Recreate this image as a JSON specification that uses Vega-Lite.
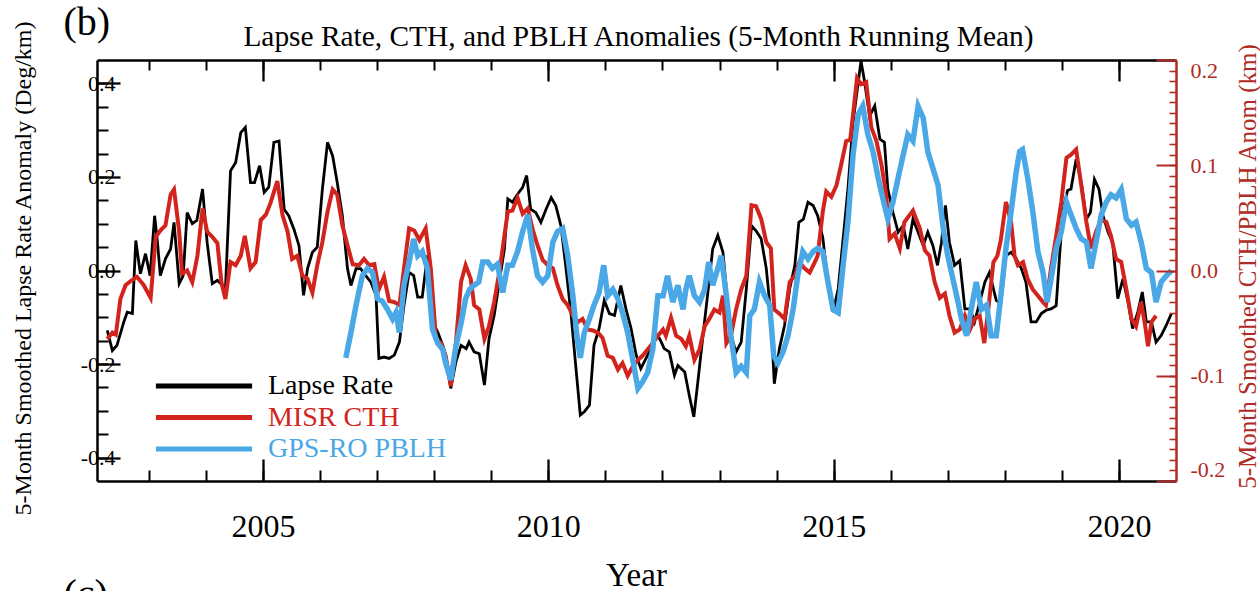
{
  "$schema": "https://vega.github.io/schema/vega-lite/v6.json",
  "autosize": {"type": "none"},
  "width": 1079,
  "height": 421,
  "padding": {"left": 97, "top": 60, "right": 84, "bottom": 110},
  "background": "white",
  "config": {"view": {"stroke": null}, "font": "Liberation Serif"},
  "datasets": {
    "lr": [
      {"t":2002.27,"v":-0.128},{"t":2002.36,"v":-0.171},{"t":2002.44,"v":-0.16},{"t":2002.56,"v":-0.11},{"t":2002.62,"v":-0.089},{"t":2002.71,"v":-0.092},{"t":2002.77,"v":0.064},{"t":2002.85,"v":-0.007},{"t":2002.94,"v":0.036},{"t":2003.02,"v":-0.011},{"t":2003.10,"v":0.117},{"t":2003.15,"v":0.06},{"t":2003.20,"v":-0.011},{"t":2003.29,"v":0.025},{"t":2003.38,"v":0.046},{"t":2003.44,"v":0.103},{"t":2003.53,"v":-0.028},{"t":2003.60,"v":-0.011},{"t":2003.67,"v":0.124},{"t":2003.76,"v":0.10},{"t":2003.84,"v":0.107},{"t":2003.94,"v":0.174},{"t":2004.02,"v":0.06},{"t":2004.11,"v":-0.028},{"t":2004.20,"v":-0.021},{"t":2004.29,"v":-0.032},{"t":2004.34,"v":-0.043},{"t":2004.43,"v":0.213},{"t":2004.52,"v":0.231},{"t":2004.61,"v":0.295},{"t":2004.69,"v":0.306},{"t":2004.78,"v":0.188},{"t":2004.85,"v":0.188},{"t":2004.94,"v":0.224},{"t":2005.02,"v":0.167},{"t":2005.10,"v":0.178},{"t":2005.19,"v":0.274},
      {"t":2005.28,"v":0.277},{"t":2005.37,"v":0.131},{"t":2005.45,"v":0.117},{"t":2005.54,"v":0.089},{"t":2005.63,"v":0.053},{"t":2005.71,"v":-0.053},{"t":2005.78,"v":0.004},{"t":2005.865,"v":0.039},{"t":2005.95,"v":0.05},{"t":2006.04,"v":0.174},{"t":2006.13,"v":0.274},{"t":2006.22,"v":0.245},{"t":2006.30,"v":0.188},{"t":2006.39,"v":0.117},{"t":2006.48,"v":0.004},{"t":2006.54,"v":-0.032},{"t":2006.63,"v":0.004},{"t":2006.71,"v":0.004},{"t":2006.80,"v":-0.011},{"t":2006.89,"v":-0.025},{"t":2006.98,"v":-0.053},{"t":2007.03,"v":-0.188},{"t":2007.12,"v":-0.185},{"t":2007.21,"v":-0.188},{"t":2007.30,"v":-0.181},{"t":2007.39,"v":-0.153},{"t":2007.47,"v":-0.075},{"t":2007.56,"v":-0.004},{"t":2007.64,"v":-0.011},{"t":2007.71,"v":-0.057},{"t":2007.79,"v":-0.057},{"t":2007.88,"v":0.032},{"t":2007.97,"v":-0.11},{"t":2008.06,"v":-0.131},{"t":2008.15,"v":-0.16},{"t":2008.20,"v":-0.181},{"t":2008.29,"v":-0.252},{"t":2008.38,"v":-0.195},
      {"t":2008.47,"v":-0.16},{"t":2008.56,"v":-0.167},{"t":2008.61,"v":-0.153},{"t":2008.70,"v":-0.174},{"t":2008.79,"v":-0.178},{"t":2008.88,"v":-0.245},{"t":2008.96,"v":-0.146},{"t":2009.05,"v":-0.096},{"t":2009.14,"v":-0.025},{"t":2009.23,"v":0.046},{"t":2009.29,"v":0.153},{"t":2009.37,"v":0.146},{"t":2009.46,"v":0.163},{"t":2009.55,"v":0.178},{"t":2009.62,"v":0.203},{"t":2009.69,"v":0.131},{"t":2009.78,"v":0.124},{"t":2009.87,"v":0.103},{"t":2009.96,"v":0.131},{"t":2010.05,"v":0.156},{"t":2010.13,"v":0.139},{"t":2010.22,"v":0.096},{"t":2010.31,"v":0.004},{"t":2010.40,"v":-0.096},{"t":2010.49,"v":-0.217},{"t":2010.56,"v":-0.309},{"t":2010.63,"v":-0.302},{"t":2010.72,"v":-0.288},{"t":2010.80,"v":-0.16},{"t":2010.89,"v":-0.124},{"t":2010.98,"v":-0.064},{"t":2011.07,"v":-0.092},{"t":2011.16,"v":-0.096},{"t":2011.27,"v":-0.032},{"t":2011.36,"v":-0.082},{"t":2011.45,"v":-0.124},{"t":2011.54,"v":-0.181},
      {"t":2011.62,"v":-0.21},{"t":2011.74,"v":-0.181},{"t":2011.83,"v":-0.153},{"t":2011.92,"v":-0.139},{"t":2011.98,"v":-0.153},{"t":2012.03,"v":-0.167},{"t":2012.12,"v":-0.174},{"t":2012.21,"v":-0.224},{"t":2012.27,"v":-0.203},{"t":2012.39,"v":-0.217},{"t":2012.47,"v":-0.267},{"t":2012.55,"v":-0.313},{"t":2012.62,"v":-0.238},{"t":2012.71,"v":-0.139},{"t":2012.79,"v":-0.053},{"t":2012.88,"v":0.046},{"t":2012.97,"v":0.075},{"t":2013.06,"v":0.039},{"t":2013.12,"v":-0.039},{"t":2013.20,"v":-0.139},{"t":2013.29,"v":-0.174},{"t":2013.38,"v":-0.153},{"t":2013.47,"v":-0.039},{"t":2013.56,"v":0.096},{"t":2013.64,"v":0.085},{"t":2013.73,"v":0.068},{"t":2013.82,"v":0.004},{"t":2013.90,"v":-0.096},{"t":2013.96,"v":-0.242},{"t":2014.05,"v":-0.167},{"t":2014.14,"v":-0.117},{"t":2014.23,"v":-0.039},{"t":2014.32,"v":0.011},{"t":2014.39,"v":0.103},{"t":2014.47,"v":0.11},{"t":2014.55,"v":0.146},{"t":2014.64,"v":0.139},{"t":2014.72,"v":0.117},
      {"t":2014.81,"v":0.07},{"t":2014.90,"v":-0.025},{"t":2014.99,"v":-0.089},{"t":2015.08,"v":-0.039},{"t":2015.16,"v":0.06},{"t":2015.25,"v":0.174},{"t":2015.34,"v":0.316},{"t":2015.43,"v":0.402},{"t":2015.48,"v":0.448},{"t":2015.54,"v":0.405},{"t":2015.63,"v":0.33},{"t":2015.72,"v":0.352},{"t":2015.81,"v":0.281},{"t":2015.89,"v":0.274},{"t":2015.95,"v":0.174},{"t":2016.04,"v":0.124},{"t":2016.13,"v":0.082},{"t":2016.22,"v":0.096},{"t":2016.30,"v":0.046},{"t":2016.39,"v":0.11},{"t":2016.48,"v":0.082},{"t":2016.57,"v":0.053},{"t":2016.65,"v":0.082},{"t":2016.74,"v":0.053},{"t":2016.82,"v":0.011},{"t":2016.89,"v":0.06},{"t":2016.96,"v":0.139},{"t":2017.03,"v":0.06},{"t":2017.12,"v":0.011},{"t":2017.21,"v":0.021},{"t":2017.30,"v":-0.082},{"t":2017.39,"v":-0.082},{"t":2017.47,"v":-0.11},{"t":2017.56,"v":-0.068},{"t":2017.65,"v":-0.025},{"t":2017.73,"v":-0.004},{"t":2017.85,"v":-0.064},{"t":2017.93,"v":-0.071},
      {"t":2018.02,"v":0.032},{"t":2018.11,"v":0.039},{"t":2018.20,"v":0.025},{"t":2018.29,"v":0.004},{"t":2018.37,"v":-0.025},{"t":2018.46,"v":-0.11},{"t":2018.55,"v":-0.11},{"t":2018.64,"v":-0.092},{"t":2018.72,"v":-0.085},{"t":2018.81,"v":-0.082},{"t":2018.90,"v":-0.075},{"t":2018.96,"v":0.032},{"t":2019.02,"v":0.131},{"t":2019.10,"v":0.171},{"t":2019.16,"v":0.174},{"t":2019.25,"v":0.238},{"t":2019.34,"v":0.188},{"t":2019.43,"v":0.11},{"t":2019.50,"v":0.124},{"t":2019.57,"v":0.195},{"t":2019.65,"v":0.174},{"t":2019.72,"v":0.117},{"t":2019.81,"v":0.082},{"t":2019.89,"v":0.06},{"t":2019.98,"v":-0.06},{"t":2020.07,"v":-0.018},{"t":2020.16,"v":-0.068},{"t":2020.24,"v":-0.124},{"t":2020.33,"v":-0.089},{"t":2020.41,"v":-0.046},{"t":2020.48,"v":-0.11},{"t":2020.57,"v":-0.11},{"t":2020.65,"v":-0.153},{"t":2020.74,"v":-0.139},{"t":2020.83,"v":-0.117},{"t":2020.92,"v":-0.092}
    ],
    "cth": [
      {"t":2002.27,"v":-0.065},{"t":2002.36,"v":-0.059},{"t":2002.42,"v":-0.061},{"t":2002.50,"v":-0.027},{"t":2002.59,"v":-0.014},{"t":2002.68,"v":-0.010},{"t":2002.79,"v":-0.006},{"t":2002.91,"v":-0.014},{"t":2003.03,"v":-0.026},{"t":2003.12,"v":0.032},{"t":2003.20,"v":0.038},{"t":2003.29,"v":0.043},{"t":2003.38,"v":0.072},{"t":2003.44,"v":0.077},{"t":2003.53,"v":0.037},{"t":2003.58,"v":-0.003},{"t":2003.67,"v":0.0},{"t":2003.76,"v":-0.011},{"t":2003.85,"v":0.014},{"t":2003.94,"v":0.059},{"t":2004.02,"v":0.037},{"t":2004.11,"v":0.032},{"t":2004.20,"v":0.026},{"t":2004.27,"v":-0.011},{"t":2004.34,"v":-0.027},{"t":2004.43,"v":0.008},{"t":2004.52,"v":0.005},{"t":2004.61,"v":0.014},{"t":2004.68,"v":0.033},{"t":2004.78,"v":0.002},{"t":2004.87,"v":0.008},{"t":2004.96,"v":0.048},{"t":2005.05,"v":0.053},{"t":2005.13,"v":0.064},{"t":2005.25,"v":0.085},
      {"t":2005.34,"v":0.053},{"t":2005.43,"v":0.037},{"t":2005.51,"v":0.011},{"t":2005.60,"v":0.014},{"t":2005.69,"v":-0.005},{"t":2005.78,"v":-0.008},{"t":2005.865,"v":-0.021},{"t":2005.95,"v":0.005},{"t":2006.04,"v":0.027},{"t":2006.13,"v":0.056},{"t":2006.22,"v":0.077},{"t":2006.30,"v":0.072},{"t":2006.39,"v":0.043},{"t":2006.48,"v":0.024},{"t":2006.57,"v":0.006},{"t":2006.68,"v":0.005},{"t":2006.77,"v":0.011},{"t":2006.86,"v":0.005},{"t":2006.95,"v":0.006},{"t":2007.03,"v":-0.018},{"t":2007.12,"v":-0.006},{"t":2007.21,"v":-0.029},{"t":2007.30,"v":-0.030},{"t":2007.39,"v":-0.033},{"t":2007.47,"v":0.002},{"t":2007.56,"v":0.040},{"t":2007.65,"v":0.038},{"t":2007.74,"v":0.029},{"t":2007.85,"v":0.040},{"t":2007.94,"v":0.002},{"t":2008.03,"v":-0.065},{"t":2008.12,"v":-0.069},{"t":2008.20,"v":-0.081},{"t":2008.29,"v":-0.110},{"t":2008.38,"v":-0.069},
      {"t":2008.47,"v":-0.011},{"t":2008.55,"v":0.005},{"t":2008.64,"v":-0.008},{"t":2008.70,"v":-0.033},{"t":2008.79,"v":-0.037},{"t":2008.88,"v":-0.065},{"t":2008.96,"v":-0.053},{"t":2009.05,"v":-0.030},{"t":2009.14,"v":-0.002},{"t":2009.23,"v":0.033},{"t":2009.29,"v":0.056},{"t":2009.37,"v":0.057},{"t":2009.46,"v":0.069},{"t":2009.55,"v":0.054},{"t":2009.64,"v":0.059},{"t":2009.72,"v":0.040},{"t":2009.81,"v":0.024},{"t":2009.90,"v":0.010},{"t":2009.99,"v":0.005},{"t":2010.08,"v":0.002},{"t":2010.16,"v":-0.014},{"t":2010.25,"v":-0.027},{"t":2010.34,"v":-0.033},{"t":2010.43,"v":-0.043},{"t":2010.52,"v":-0.049},{"t":2010.60,"v":-0.046},{"t":2010.69,"v":-0.056},{"t":2010.78,"v":-0.057},{"t":2010.87,"v":-0.059},{"t":2010.95,"v":-0.064},{"t":2011.04,"v":-0.081},{"t":2011.13,"v":-0.083},{"t":2011.22,"v":-0.094},{"t":2011.30,"v":-0.088},{"t":2011.39,"v":-0.100},{"t":2011.48,"v":-0.091},
      {"t":2011.57,"v":-0.085},{"t":2011.65,"v":-0.081},{"t":2011.74,"v":-0.075},{"t":2011.83,"v":-0.069},{"t":2011.92,"v":-0.062},{"t":2012.01,"v":-0.056},{"t":2012.06,"v":-0.062},{"t":2012.15,"v":-0.045},{"t":2012.24,"v":-0.062},{"t":2012.33,"v":-0.065},{"t":2012.41,"v":-0.072},{"t":2012.47,"v":-0.062},{"t":2012.56,"v":-0.085},{"t":2012.65,"v":-0.075},{"t":2012.74,"v":-0.053},{"t":2012.82,"v":-0.046},{"t":2012.91,"v":-0.037},{"t":2013.00,"v":-0.040},{"t":2013.06,"v":-0.024},{"t":2013.12,"v":-0.069},{"t":2013.20,"v":-0.062},{"t":2013.29,"v":-0.037},{"t":2013.38,"v":-0.018},{"t":2013.47,"v":-0.005},{"t":2013.56,"v":0.062},{"t":2013.64,"v":0.061},{"t":2013.73,"v":0.049},{"t":2013.82,"v":0.027},{"t":2013.90,"v":0.021},{"t":2013.96,"v":-0.037},{"t":2014.05,"v":-0.041},{"t":2014.14,"v":-0.046},{"t":2014.23,"v":-0.011},{"t":2014.32,"v":-0.005},{"t":2014.40,"v":0.008},{"t":2014.49,"v":0.002},{"t":2014.58,"v":-0.002},{"t":2014.67,"v":0.008},
      {"t":2014.72,"v":0.014},{"t":2014.81,"v":0.056},{"t":2014.87,"v":0.075},{"t":2014.96,"v":0.070},{"t":2015.05,"v":0.081},{"t":2015.13,"v":0.100},{"t":2015.22,"v":0.123},{"t":2015.29,"v":0.124},{"t":2015.36,"v":0.158},{"t":2015.41,"v":0.183},{"t":2015.48,"v":0.177},{"t":2015.57,"v":0.179},{"t":2015.66,"v":0.136},{"t":2015.75,"v":0.123},{"t":2015.84,"v":0.100},{"t":2015.92,"v":0.072},{"t":2015.98,"v":0.030},{"t":2016.07,"v":0.035},{"t":2016.16,"v":0.021},{"t":2016.24,"v":0.046},{"t":2016.39,"v":0.057},{"t":2016.51,"v":0.040},{"t":2016.60,"v":0.019},{"t":2016.68,"v":0.014},{"t":2016.77,"v":-0.011},{"t":2016.86,"v":-0.026},{"t":2016.95,"v":-0.022},{"t":2017.03,"v":-0.043},{"t":2017.12,"v":-0.059},{"t":2017.21,"v":-0.056},{"t":2017.30,"v":-0.043},{"t":2017.39,"v":-0.056},{"t":2017.47,"v":-0.046},{"t":2017.56,"v":-0.043},{"t":2017.64,"v":-0.069},{"t":2017.71,"v":-0.037},{"t":2017.80,"v":0.008},
      {"t":2017.87,"v":0.014},{"t":2017.93,"v":0.029},{"t":2018.02,"v":0.065},{"t":2018.11,"v":0.046},{"t":2018.17,"v":0.014},{"t":2018.23,"v":0.005},{"t":2018.32,"v":0.008},{"t":2018.40,"v":-0.008},{"t":2018.49,"v":-0.018},{"t":2018.58,"v":-0.024},{"t":2018.67,"v":-0.030},{"t":2018.72,"v":-0.033},{"t":2018.81,"v":0.002},{"t":2018.90,"v":0.033},{"t":2018.99,"v":0.065},{"t":2019.08,"v":0.107},{"t":2019.16,"v":0.110},{"t":2019.25,"v":0.115},{"t":2019.34,"v":0.081},{"t":2019.43,"v":0.046},{"t":2019.51,"v":0.021},{"t":2019.60,"v":0.037},{"t":2019.69,"v":0.048},{"t":2019.78,"v":0.046},{"t":2019.86,"v":0.033},{"t":2019.95,"v":0.011},{"t":2020.04,"v":0.008},{"t":2020.13,"v":-0.018},{"t":2020.22,"v":-0.046},{"t":2020.30,"v":-0.053},{"t":2020.39,"v":-0.030},{"t":2020.45,"v":-0.049},{"t":2020.51,"v":-0.072},{"t":2020.57,"v":-0.049},{"t":2020.65,"v":-0.043}
    ],
    "pblh": [
      {"t":2006.45,"v":-0.083},{"t":2006.54,"v":-0.059},{"t":2006.63,"v":-0.033},{"t":2006.74,"v":-0.005},{"t":2006.83,"v":0.002},{"t":2006.92,"v":-0.002},{"t":2007.01,"v":-0.027},{"t":2007.09,"v":-0.029},{"t":2007.18,"v":-0.037},{"t":2007.27,"v":-0.046},{"t":2007.33,"v":-0.040},{"t":2007.39,"v":-0.059},{"t":2007.47,"v":-0.014},{"t":2007.56,"v":0.008},{"t":2007.64,"v":0.030},{"t":2007.71,"v":0.014},{"t":2007.79,"v":0.018},{"t":2007.88,"v":0.002},{"t":2007.97,"v":-0.056},{"t":2008.06,"v":-0.069},{"t":2008.15,"v":-0.075},{"t":2008.20,"v":-0.088},{"t":2008.29,"v":-0.104},{"t":2008.38,"v":-0.072},
      {"t":2008.47,"v":-0.05},{"t":2008.55,"v":-0.027},{"t":2008.62,"v":-0.018},{"t":2008.70,"v":-0.014},{"t":2008.78,"v":-0.011},{"t":2008.85,"v":0.008},{"t":2008.94,"v":0.008},{"t":2009.02,"v":0.002},{"t":2009.11,"v":0.006},{"t":2009.20,"v":-0.021},{"t":2009.29,"v":0.005},{"t":2009.37,"v":0.005},{"t":2009.46,"v":0.018},{"t":2009.55,"v":0.037},{"t":2009.64,"v":0.053},{"t":2009.72,"v":0.021},{"t":2009.81,"v":-0.005},{"t":2009.90,"v":-0.011},{"t":2009.99,"v":-0.005},{"t":2010.08,"v":0.027},{"t":2010.16,"v":0.037},{"t":2010.25,"v":0.040},{"t":2010.34,"v":0.014},{"t":2010.43,"v":-0.024},{"t":2010.50,"v":-0.062},{"t":2010.56,"v":-0.083},{"t":2010.63,"v":-0.059},{"t":2010.72,"v":-0.046},{"t":2010.80,"v":-0.033},{"t":2010.89,"v":-0.021},{"t":2010.97,"v":0.005},{"t":2011.04,"v":-0.024},{"t":2011.13,"v":-0.018},{"t":2011.22,"v":-0.027},{"t":2011.30,"v":-0.040},{"t":2011.39,"v":-0.059},{"t":2011.48,"v":-0.085},{"t":2011.57,"v":-0.112},{"t":2011.65,"v":-0.106},
      {"t":2011.74,"v":-0.097},{"t":2011.83,"v":-0.075},{"t":2011.92,"v":-0.024},{"t":2012.01,"v":-0.024},{"t":2012.09,"v":-0.005},{"t":2012.18,"v":-0.030},{"t":2012.27,"v":-0.014},{"t":2012.36,"v":-0.037},{"t":2012.41,"v":-0.018},{"t":2012.47,"v":-0.005},{"t":2012.56,"v":-0.024},{"t":2012.65,"v":-0.030},{"t":2012.74,"v":-0.018},{"t":2012.81,"v":0.008},{"t":2012.88,"v":-0.014},{"t":2012.97,"v":0.002},{"t":2013.03,"v":0.014},{"t":2013.12,"v":-0.024},{"t":2013.20,"v":-0.062},{"t":2013.29,"v":-0.097},{"t":2013.38,"v":-0.091},{"t":2013.47,"v":-0.097},{"t":2013.53,"v":-0.043},{"t":2013.61,"v":-0.037},{"t":2013.70,"v":-0.011},{"t":2013.79,"v":-0.024},{"t":2013.88,"v":-0.033},{"t":2013.95,"v":-0.081},{"t":2014.02,"v":-0.088},{"t":2014.11,"v":-0.078},{"t":2014.20,"v":-0.062},{"t":2014.29,"v":-0.037},{"t":2014.37,"v":-0.005},{"t":2014.46,"v":0.018},{"t":2014.55,"v":0.011},{"t":2014.64,"v":0.018},{"t":2014.72,"v":0.021},
      {"t":2014.81,"v":0.018},{"t":2014.90,"v":-0.011},{"t":2014.99,"v":-0.037},{"t":2015.08,"v":-0.040},{"t":2015.16,"v":0.002},{"t":2015.25,"v":0.046},{"t":2015.34,"v":0.110},{"t":2015.43,"v":0.148},{"t":2015.51,"v":0.156},{"t":2015.60,"v":0.129},{"t":2015.69,"v":0.113},{"t":2015.78,"v":0.088},{"t":2015.86,"v":0.069},{"t":2015.95,"v":0.049},{"t":2016.04,"v":0.065},{"t":2016.13,"v":0.088},{"t":2016.22,"v":0.110},{"t":2016.30,"v":0.129},{"t":2016.39,"v":0.123},{"t":2016.48,"v":0.156},{"t":2016.57,"v":0.145},{"t":2016.65,"v":0.113},{"t":2016.74,"v":0.097},{"t":2016.83,"v":0.081},{"t":2016.92,"v":0.040},{"t":2017.00,"v":0.014},{"t":2017.09,"v":-0.008},{"t":2017.18,"v":-0.030},{"t":2017.24,"v":-0.046},{"t":2017.33,"v":-0.062},{"t":2017.41,"v":-0.037},{"t":2017.50,"v":-0.011},{"t":2017.59,"v":-0.037},{"t":2017.68,"v":-0.033},{"t":2017.76,"v":-0.062},
      {"t":2017.85,"v":-0.062},{"t":2017.93,"v":-0.024},{"t":2018.02,"v":0.021},{"t":2018.11,"v":0.056},{"t":2018.20,"v":0.094},{"t":2018.26,"v":0.113},{"t":2018.31,"v":0.115},{"t":2018.40,"v":0.088},{"t":2018.49,"v":0.056},{"t":2018.58,"v":0.018},{"t":2018.67,"v":-0.002},{"t":2018.74,"v":-0.030},{"t":2018.81,"v":-0.008},{"t":2018.90,"v":0.021},{"t":2018.99,"v":0.037},{"t":2019.08,"v":0.065},{"t":2019.16,"v":0.053},{"t":2019.25,"v":0.040},{"t":2019.34,"v":0.030},{"t":2019.43,"v":0.027},{"t":2019.51,"v":0.002},{"t":2019.60,"v":0.027},{"t":2019.69,"v":0.053},{"t":2019.78,"v":0.065},{"t":2019.86,"v":0.072},{"t":2019.95,"v":0.069},{"t":2020.04,"v":0.077},{"t":2020.13,"v":0.049},{"t":2020.22,"v":0.043},{"t":2020.30,"v":0.046},{"t":2020.39,"v":0.027},{"t":2020.48,"v":0.002},{"t":2020.57,"v":-0.002},{"t":2020.65,"v":-0.030},{"t":2020.74,"v":-0.011},{"t":2020.83,"v":-0.005},{"t":2020.92,"v":0.0}
    ]
  },
  "resolve": {
    "scale": {"x": "independent", "y": "independent"},
    "axis": {"x": "independent", "y": "independent"}
  },
  "layer": [
    {
      "data": {"name": "lr"},
      "mark": {"type": "line", "strokeWidth": 2.8, "strokeJoin": "miter"},
      "encoding": {
        "x": {"field": "t", "type": "quantitative",
          "scale": {"domain": [2002.09, 2021.0], "nice": false, "zero": false},
          "axis": {"orient": "bottom", "values": [2005, 2010, 2015, 2020], "format": "d", "ticks": false,
            "labelPadding": 55, "labelBaseline": "alphabetic", "labelFont": "Liberation Serif", "labelFontSize": 32, "labelColor": "black",
            "labelFlush": false, "labelOverlap": false,
            "domainColor": "black", "domainWidth": 2.5, "grid": false,
            "title": "Year", "titleFont": "Liberation Serif", "titleFontSize": 33, "titleFontWeight": "normal", "titleColor": "black",
            "titleX": 539, "titleY": 104, "titleBaseline": "alphabetic", "titleAlign": "center", "zindex": 2}},
        "y": {"field": "v", "type": "quantitative",
          "scale": {"domain": [-0.45, 0.45], "nice": false, "zero": false},
          "axis": {"orient": "left", "values": [-0.4, -0.2, 0, 0.2, 0.4], "format": ".1f", "labelExpr": "replace(datum.label, '\u2212', '-')", "ticks": false,
            "labelPadding": -18, "labelFont": "Liberation Serif", "labelFontSize": 22, "labelColor": "black", "labelFlush": false,
            "domainColor": "black", "domainWidth": 2.5, "grid": false,
            "title": "5-Month Smoothed Lapse Rate Anomaly (Deg/km)", "titleFont": "Liberation Serif", "titleFontSize": 24, "titleFontWeight": "normal", "titleColor": "black",
            "titleAngle": 270, "titleX": -74, "titleY": 208, "titleBaseline": "middle", "titleAlign": "center", "zindex": 2}},
        "color": {"datum": "Lapse Rate", "type": "nominal",
          "scale": {"domain": ["Lapse Rate", "MISR CTH", "GPS-RO PBLH"], "range": ["#000000", "#d2241c", "#4aa8e6"]},
          "legend": {"orient": "none", "legendX": 93, "legendY": 312, "title": null, "padding": 0,
            "symbolType": "M-5,0H5", "symbolSize": 370, "symbolStrokeWidth": 5,
            "labelFont": "Liberation Serif", "labelFontSize": 28, "labelOffset": 50, "labelLimit": 0, "rowPadding": 3.5,
            "encode": {"labels": {"update": {"fill": [
              {"test": "datum.label === 'MISR CTH'", "value": "#d2241c"},
              {"test": "datum.label === 'GPS-RO PBLH'", "value": "#4aa8e6"},
              {"value": "#000000"}]}}}}}
      }
    },
    {
      "data": {"name": "cth"},
      "mark": {"type": "line", "strokeWidth": 4, "strokeJoin": "miter"},
      "encoding": {
        "x": {"field": "t", "type": "quantitative",
          "scale": {"domain": [2002.09, 2021.0], "nice": false, "zero": false},
          "axis": {"orient": "bottom", "values": [2005, 2010, 2015, 2020], "labels": false, "domain": false, "grid": false,
            "offset": -22, "tickSize": 22, "tickColor": "black", "tickWidth": 2.3, "title": null, "zindex": 2}},
        "y": {"field": "v", "type": "quantitative",
          "scale": {"domain": [-0.2, 0.2], "nice": false, "zero": false},
          "axis": {"orient": "right", "values": [-0.2, -0.1, 0, 0.1, 0.2], "format": ".1f", "labelExpr": "replace(datum.label, '\u2212', '-')", "ticks": false,
            "labelPadding": 14, "labelFont": "Liberation Serif", "labelFontSize": 22, "labelColor": "#b02a26", "labelFlush": true,
            "domainColor": "#b02a26", "domainWidth": 2.5, "grid": false,
            "title": "5-Month Smoothed CTH/PBLH Anom (km)", "titleFont": "Liberation Serif", "titleFontSize": 25, "titleFontWeight": "normal", "titleColor": "#b02a26",
            "titleAngle": 270, "titleX": 71, "titleY": 206, "titleBaseline": "middle", "titleAlign": "center", "zindex": 2}},
        "color": {"datum": "MISR CTH", "type": "nominal"}
      }
    },
    {
      "data": {"name": "pblh"},
      "mark": {"type": "line", "strokeWidth": 5.5, "strokeJoin": "miter"},
      "encoding": {
        "x": {"field": "t", "type": "quantitative",
          "scale": {"domain": [2002.09, 2021.0], "nice": false, "zero": false},
          "axis": {"orient": "bottom", "values": [2003, 2004, 2005, 2006, 2007, 2008, 2009, 2010, 2011, 2012, 2013, 2014, 2015, 2016, 2017, 2018, 2019, 2020],
            "labels": false, "domain": false, "grid": false, "offset": -11, "tickSize": 11, "tickColor": "black", "tickWidth": 2,
            "title": "(c)", "titleFont": "Liberation Serif", "titleFontSize": 40, "titleFontWeight": "normal", "titleColor": "black",
            "titleX": -34, "titleY": 136, "titleAlign": "left", "titleBaseline": "alphabetic", "zindex": 2}},
        "y": {"field": "v", "type": "quantitative",
          "scale": {"domain": [-0.2, 0.2], "nice": false, "zero": false},
          "axis": {"orient": "right", "values": [-0.2, -0.1, 0, 0.1, 0.2], "labels": false, "domain": false, "grid": false,
            "offset": -20, "tickSize": 20, "tickColor": "#b02a26", "tickWidth": 2, "title": null, "zindex": 2}},
        "color": {"datum": "GPS-RO PBLH", "type": "nominal"}
      }
    },
    {
      "data": {"name": "cth"},
      "mark": {"type": "line", "strokeOpacity": 0},
      "encoding": {
        "x": {"field": "t", "type": "quantitative",
          "scale": {"domain": [2002.09, 2021.0], "nice": false, "zero": false},
          "axis": {"orient": "top", "values": [2005, 2010, 2015, 2020], "labels": false, "domain": false, "grid": false,
            "offset": -21, "tickSize": 21, "tickColor": "black", "tickWidth": 2.3,
            "title": "Lapse Rate, CTH, and PBLH Anomalies (5-Month Running Mean)", "titleFont": "Liberation Serif", "titleFontSize": 29.4, "titleFontWeight": "normal", "titleColor": "black",
            "titleX": 541, "titleY": -36, "titleBaseline": "alphabetic", "titleAlign": "center", "zindex": 2}},
        "y": {"field": "v", "type": "quantitative",
          "scale": {"domain": [-0.2, 0.2], "nice": false, "zero": false},
          "axis": {"orient": "right", "values": [-0.2, -0.19, -0.18, -0.17, -0.16, -0.15, -0.14, -0.13, -0.12, -0.11, -0.1, -0.09, -0.08, -0.07, -0.06, -0.05, -0.04, -0.03, -0.02, -0.01, 0, 0.01, 0.02, 0.03, 0.04, 0.05, 0.06, 0.07, 0.08, 0.09, 0.1, 0.11, 0.12, 0.13, 0.14, 0.15, 0.16, 0.17, 0.18, 0.19, 0.2],
            "labels": false, "domain": false, "grid": false, "offset": -7, "tickSize": 7, "tickColor": "#b02a26", "tickWidth": 1.6, "title": null, "zindex": 2}}
      }
    },
    {
      "data": {"name": "lr"},
      "mark": {"type": "line", "strokeOpacity": 0},
      "encoding": {
        "x": {"field": "t", "type": "quantitative",
          "scale": {"domain": [2002.09, 2021.0], "nice": false, "zero": false},
          "axis": {"orient": "top", "values": [2003, 2004, 2005, 2006, 2007, 2008, 2009, 2010, 2011, 2012, 2013, 2014, 2015, 2016, 2017, 2018, 2019, 2020],
            "labels": false, "domainColor": "black", "domainWidth": 2.5, "grid": false, "ticks": false,
            "title": "(b)", "titleFont": "Liberation Serif", "titleFontSize": 40, "titleFontWeight": "normal", "titleColor": "black",
            "titleX": -34, "titleY": -26, "titleAlign": "left", "titleBaseline": "alphabetic", "zindex": 2}},
        "y": {"field": "v", "type": "quantitative",
          "scale": {"domain": [-0.45, 0.45], "nice": false, "zero": false},
          "axis": {"orient": "left", "values": [-0.4, -0.2, 0, 0.2, 0.4], "labels": false, "domain": false, "grid": false,
            "offset": -23, "tickSize": 23, "tickColor": "black", "tickWidth": 2.3, "title": null, "zindex": 2}}
      }
    },
    {
      "data": {"name": "lr"},
      "mark": {"type": "line", "strokeOpacity": 0},
      "encoding": {
        "x": {"field": "t", "type": "quantitative",
          "scale": {"domain": [2002.09, 2021.0], "nice": false, "zero": false},
          "axis": {"orient": "top", "values": [2003, 2004, 2005, 2006, 2007, 2008, 2009, 2010, 2011, 2012, 2013, 2014, 2015, 2016, 2017, 2018, 2019, 2020],
            "labels": false, "domain": false, "grid": false, "offset": -10, "tickSize": 10, "tickColor": "black", "tickWidth": 2, "title": null, "zindex": 2}},
        "y": {"field": "v", "type": "quantitative",
          "scale": {"domain": [-0.45, 0.45], "nice": false, "zero": false},
          "axis": {"orient": "left", "values": [-0.4, -0.35, -0.3, -0.25, -0.2, -0.15, -0.1, -0.05, 0, 0.05, 0.1, 0.15, 0.2, 0.25, 0.3, 0.35, 0.4],
            "labels": false, "domain": false, "grid": false, "offset": -11, "tickSize": 11, "tickColor": "black", "tickWidth": 2, "title": null, "zindex": 2}}
      }
    }
  ]
}
